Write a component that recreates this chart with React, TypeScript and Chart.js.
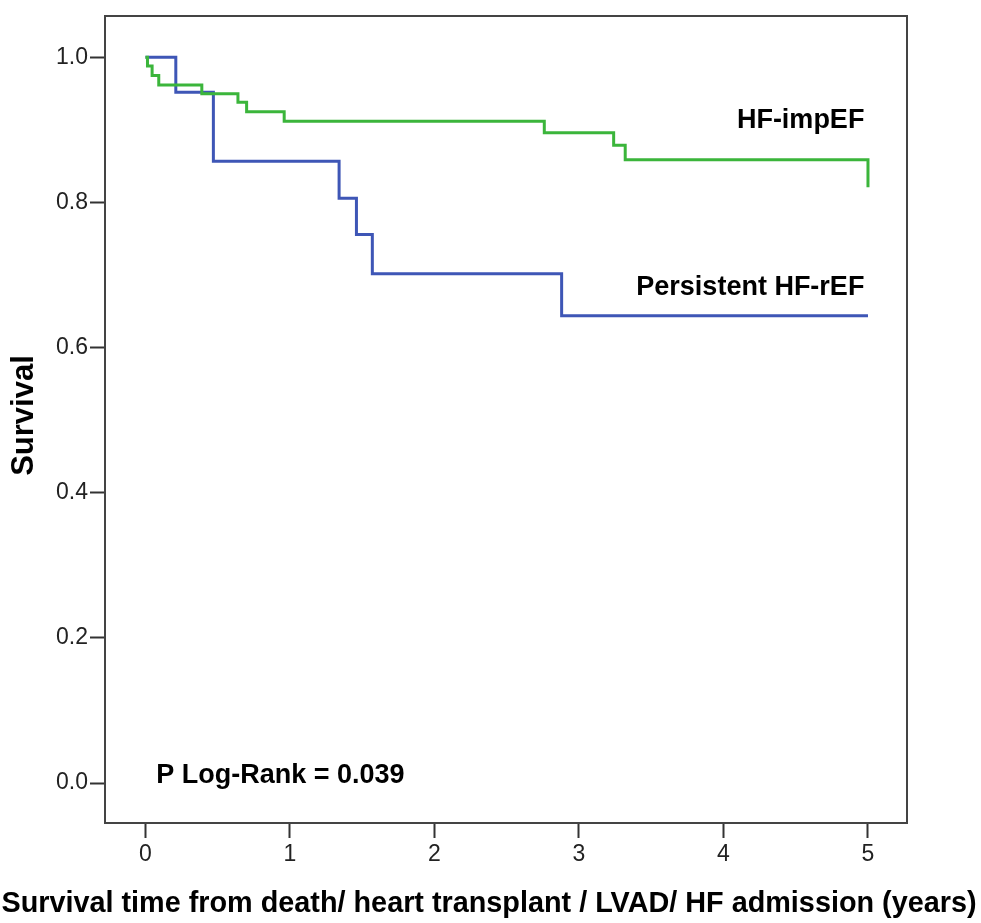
import React, { useEffect, useRef } from "react";
import { Chart, registerables } from "chart.js";

Chart.register(...registerables);

// Kaplan–Meier survival estimates (time in years, survival fraction)
const impEFTimes = [0, 0.014, 0.046, 0.092, 0.39, 0.64, 0.7, 0.96, 2.76, 3.24, 3.32, 5.0];
const impEFSurvival = [1.0, 0.988, 0.975, 0.962, 0.95, 0.938, 0.925, 0.912, 0.896, 0.879, 0.859, 0.821];

const rEFTimes = [0, 0.21, 0.47, 1.34, 1.46, 1.57, 2.88, 5.0];
const rEFSurvival = [1.0, 0.952, 0.857, 0.806, 0.756, 0.702, 0.644, 0.644];

const xTickValues = [0, 1, 2, 3, 4, 5];
const yTickValues = [0, 0.2, 0.4, 0.6, 0.8, 1.0];

const seriesNames = ["HF-impEF", "Persistent HF-rEF"];
const pValueLabel = "P Log-Rank = 0.039";
const xTitle = "Survival time from death/ heart transplant / LVAD/ HF admission (years)";
const yTitle = "Survival";

const FONT = "'Liberation Sans', Arial, Helvetica, sans-serif";

const framePlugin = {
  id: "frameAndText",
  afterDraw(chart: any) {
    const { ctx, chartArea, scales } = chart;
    const xs = scales.x;
    const ys = scales.y;
    ctx.save();
    // frame
    ctx.strokeStyle = "#444";
    ctx.lineWidth = 2;
    ctx.strokeRect(chartArea.left, chartArea.top, chartArea.right - chartArea.left, chartArea.bottom - chartArea.top);

    ctx.fillStyle = "#000";
    ctx.textBaseline = "alphabetic";
    ctx.font = `bold 27px ${FONT}`;
    ctx.textAlign = "right";
    ctx.fillText(seriesNames[0], xs.getPixelForValue(4.975), ys.getPixelForValue(0.902));
    ctx.fillText(seriesNames[1], xs.getPixelForValue(4.975), ys.getPixelForValue(0.672));
    ctx.textAlign = "left";
    ctx.fillText(pValueLabel, xs.getPixelForValue(0.075), ys.getPixelForValue(0.0));

    // x title
    ctx.font = `bold 28.8px ${FONT}`;
    ctx.textAlign = "center";
    ctx.fillText(xTitle, 489, 912);

    // y title
    ctx.font = `bold 31px ${FONT}`;
    ctx.translate(33, (chartArea.top + chartArea.bottom) / 2 - 4);
    ctx.rotate(-Math.PI / 2);
    ctx.textAlign = "center";
    ctx.fillText(yTitle, 0, 0);
    ctx.restore();
  },
};

export default function App() {
  const canvasRef = useRef<HTMLCanvasElement | null>(null);

  useEffect(() => {
    if (!canvasRef.current) return;
    const chart = new Chart(canvasRef.current, {
      type: "line",
      data: {
        datasets: [
          {
            label: seriesNames[0],
            data: impEFTimes.map((t, i) => ({ x: t, y: impEFSurvival[i] })),
            borderColor: "#3bb53b",
            borderWidth: 3,
            stepped: "before",
            pointRadius: 0,
            fill: false,
            borderJoinStyle: "miter",
          },
          {
            label: seriesNames[1],
            data: rEFTimes.map((t, i) => ({ x: t, y: rEFSurvival[i] })),
            borderColor: "#3e56b6",
            borderWidth: 3,
            stepped: "before",
            pointRadius: 0,
            fill: false,
            borderJoinStyle: "miter",
          },
        ],
      },
      options: {
        responsive: false,
        animation: false,
        layout: { padding: { left: 0, right: 74, top: 16, bottom: 0 } },
        plugins: {
          legend: { display: false },
          tooltip: { enabled: false },
        },
        scales: {
          x: {
            type: "linear",
            min: -0.28,
            max: 5.27,
            afterBuildTicks: (s: any) => {
              s.ticks = xTickValues.map((v) => ({ value: v }));
            },
            afterFit: (s: any) => {
              s.height = 100;
            },
            grid: {
              display: true,
              drawOnChartArea: false,
              drawTicks: true,
              tickLength: 15,
              tickColor: "#333",
              tickWidth: 2,
            },
            border: { display: true, color: "#333", width: 2 },
            ticks: {
              color: "#222",
              font: { family: FONT, size: 23 },
              padding: 3,
              maxRotation: 0,
              callback: (v: any) => String(v),
            },
          },
          y: {
            type: "linear",
            min: -0.055,
            max: 1.057,
            afterBuildTicks: (s: any) => {
              s.ticks = yTickValues.map((v) => ({ value: v }));
            },
            afterFit: (s: any) => {
              s.width = 105;
            },
            grid: {
              display: true,
              drawOnChartArea: false,
              drawTicks: true,
              tickLength: 15,
              tickColor: "#333",
              tickWidth: 2,
            },
            border: { display: true, color: "#333", width: 2 },
            ticks: {
              color: "#222",
              font: { family: FONT, size: 23 },
              padding: 2,
              callback: (v: any) => Number(v).toFixed(1),
            },
          },
        },
      },
      plugins: [framePlugin],
    } as any);
    return () => chart.destroy();
  }, []);

  return (
    <div style={{ position: "absolute", left: 0, top: 0, width: 981, height: 923, background: "#fff" }}>
      <canvas ref={canvasRef} width={981} height={923} style={{ display: "block" }} />
    </div>
  );
}
